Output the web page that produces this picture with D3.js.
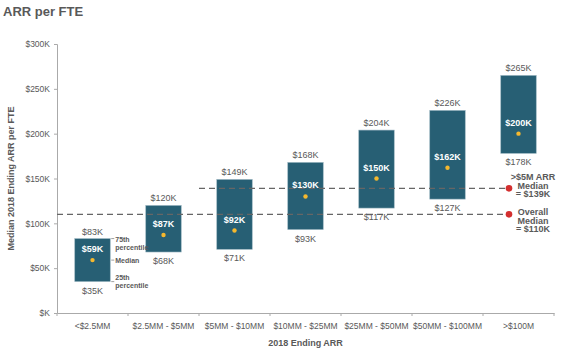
<!DOCTYPE html>
<html>
<head>
<meta charset="utf-8">
<script src="https://cdn.jsdelivr.net/npm/d3@7"></script>
<style>
  body { margin: 0; background: #fff; }
  text { font-family: "Liberation Sans", Arial, sans-serif; }
</style>
</head>
<body>
<svg id="chart" width="564" height="350"></svg>
<script>
// ARR per FTE — khoảng 25th-75th percentile theo quy mô ARR
const categories = ["<$2.5MM", "$2.5MM - $5MM", "$5MM - $10MM", "$10MM - $25MM", "$25MM - $50MM", "$50MM - $100MM", ">$100M"];
const p25 = [35, 68, 71, 93, 117, 127, 178];
const p75 = [83, 120, 149, 168, 204, 226, 265];
const medians = [59, 87, 92, 130, 150, 162, 200];
const yTicks = [0, 50, 100, 150, 200, 250, 300];
const refLines = [
  { value: 139, from: 2, lines: [">$5M ARR", "Median", "= $139K"], off: -8 },
  { value: 110, from: 0, lines: ["Overall", "Median", "= $110K"], off: 1 }
];

const data = categories.map((c, i) => ({ cat: c, lo: p25[i], hi: p75[i], med: medians[i] }));

const svg = d3.select("#chart");
const margin = { top: 44, right: 12, bottom: 37, left: 57 };
const W = 564, H = 350;
const innerW = 497;
const innerH = H - margin.top - margin.bottom;

const g = svg.append("g").attr("transform", `translate(${margin.left},${margin.top})`);

const x = d3.scaleBand().domain(categories).range([0, innerW]).paddingInner(0.5).paddingOuter(0.25);
const y = d3.scaleLinear().domain([0, 300]).range([innerH, 0]);

const fmt = v => `$${v === 0 ? "" : v}K`;
const grey = "#595959";

// --- Tiêu đề ---
svg.append("text")
  .attr("x", 3).attr("y", 16)
  .style("font-size", "13px").style("font-weight", "bold")
  .attr("fill", grey)
  .text("ARR per FTE");

// --- Trục Y ---
const yAxis = g.append("g")
  .call(d3.axisLeft(y).tickValues(yTicks).tickFormat(fmt).tickSize(3).tickPadding(4));
yAxis.select(".domain").attr("stroke", "#aaa");
yAxis.selectAll(".tick line").attr("stroke", "#aaa");
yAxis.selectAll("text").attr("fill", grey).style("font-size", "8.5px");

// --- Trục X ---
const xAxis = g.append("g")
  .attr("transform", `translate(0,${innerH})`)
  .call(d3.axisBottom(x).tickSize(0).tickPadding(10));
xAxis.select(".domain").attr("stroke", "#aaa");
xAxis.selectAll("text").attr("fill", grey).style("font-size", "8.5px");
// vạch chia giữa các nhóm
const step = x.step();
g.selectAll(".xdiv")
  .data(d3.range(categories.length + 1))
  .enter().append("line")
  .attr("x1", i => i * step).attr("x2", i => i * step)
  .attr("y1", innerH).attr("y2", innerH + 3)
  .attr("stroke", "#aaa");

// --- Cột (25th - 75th) ---
g.selectAll(".bar")
  .data(data)
  .enter().append("rect")
  .attr("x", d => x(d.cat))
  .attr("y", d => y(d.hi))
  .attr("width", x.bandwidth())
  .attr("height", d => y(d.lo) - y(d.hi))
  .attr("fill", "#275F74")
  .attr("stroke", "#9fb9c4")
  .attr("stroke-width", 0.6);

// --- Đường tham chiếu ---
refLines.forEach(r => {
  g.append("line")
    .attr("x1", r.from * step).attr("x2", 448)
    .attr("y1", y(r.value)).attr("y2", y(r.value))
    .attr("stroke", "#666").attr("stroke-width", 1.2)
    .attr("stroke-dasharray", "6,4");
  g.append("circle")
    .attr("cx", 452).attr("cy", y(r.value)).attr("r", 3.3)
    .attr("fill", "#D32F2F");
  const t = g.append("text")
    .attr("x", 476).attr("y", y(r.value) + r.off)
    .attr("text-anchor", "middle")
    .attr("fill", grey)
    .style("font-size", "9px").style("font-weight", "bold");
  r.lines.forEach((s, i) => t.append("tspan").attr("x", 476).attr("dy", i === 0 ? 0 : 8.5).text(s));
});

// --- Nhãn trên/dưới cột ---
g.selectAll(".top")
  .data(data).enter().append("text")
  .attr("x", d => x(d.cat) + x.bandwidth() / 2)
  .attr("y", d => y(d.hi) - 4)
  .attr("text-anchor", "middle")
  .attr("fill", grey).style("font-size", "9px")
  .text(d => fmt(d.hi));

g.selectAll(".bottom")
  .data(data).enter().append("text")
  .attr("x", d => x(d.cat) + x.bandwidth() / 2)
  .attr("y", d => y(d.lo) + 12)
  .attr("text-anchor", "middle")
  .attr("fill", grey).style("font-size", "9px")
  .text(d => fmt(d.lo));

// --- Trung vị ---
g.selectAll(".med")
  .data(data).enter().append("circle")
  .attr("cx", d => x(d.cat) + x.bandwidth() / 2)
  .attr("cy", d => y(d.med))
  .attr("r", 2.2)
  .attr("fill", "#F5B82E");

g.selectAll(".medlabel")
  .data(data).enter().append("text")
  .attr("x", d => x(d.cat) + x.bandwidth() / 2)
  .attr("y", d => y(d.med) - 8)
  .attr("text-anchor", "middle")
  .attr("fill", "#fff").style("font-size", "9px").style("font-weight", "bold")
  .text(d => fmt(d.med));

// --- Chú thích percentile cho cột đầu ---
const d0 = data[0];
const ax = x(d0.cat) + x.bandwidth();
const notes = [
  { yv: d0.hi, lines: ["75th", "percentile"], off: 3 },
  { yv: d0.med, lines: ["Median"], off: 3 },
  { yv: d0.lo, lines: ["25th", "percentile"], off: -2 }
];
notes.forEach(n => {
  const yy = y(n.yv);
  g.append("line")
    .attr("x1", ax + 1).attr("x2", ax + 4)
    .attr("y1", yy).attr("y2", yy)
    .attr("stroke", "#888").attr("stroke-width", 0.8);
  const t = g.append("text")
    .attr("x", ax + 5).attr("y", yy + n.off)
    .attr("fill", grey)
    .style("font-size", "7px").style("font-weight", "bold");
  n.lines.forEach((s, i) => t.append("tspan").attr("x", ax + 5).attr("dy", i === 0 ? 0 : 8).text(s));
});

// --- Nhãn trục ---
svg.append("text")
  .attr("x", margin.left + innerW / 2).attr("y", 346)
  .attr("text-anchor", "middle")
  .attr("fill", grey).style("font-size", "9px").style("font-weight", "bold")
  .text("2018 Ending ARR");

svg.append("text")
  .attr("transform", "rotate(-90)")
  .attr("x", -(margin.top + innerH / 2)).attr("y", 14)
  .attr("text-anchor", "middle")
  .attr("fill", grey).style("font-size", "9px").style("font-weight", "bold")
  .text("Median 2018 Ending ARR per FTE");
</script>
</body>
</html>
